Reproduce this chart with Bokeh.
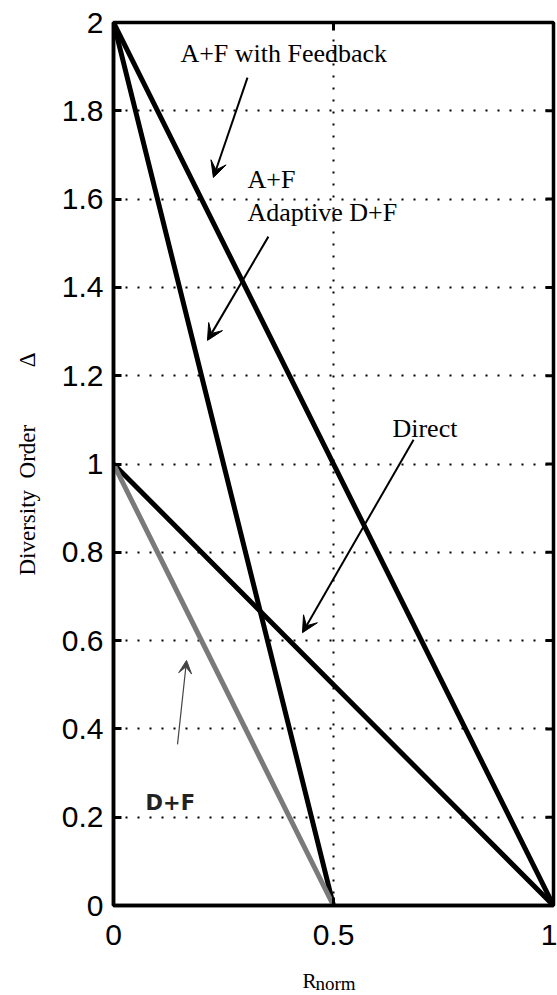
import math
from bokeh.plotting import figure
from bokeh.layouts import column
from bokeh.models import (Range1d, LinearAxis, FixedTicker, Label, Arrow, VeeHead)
from bokeh.core.properties import value
from bokeh.embed import file_html
from bokeh.resources import INLINE

# ---- data ----
series_names = ["A+F with Feedback", "A+F / Adaptive D+F", "Direct", "D+F"]
series_x = [[0, 1], [0, 0.5], [0, 1], [0, 0.5]]
series_y = [[2, 0], [2, 0], [1, 0], [1, 0]]
series_colors = ["black", "black", "black", "#7a7a7a"]

x_ticks = [0, 0.5, 1]
x_tick_labels = ["0", "0.5", "1"]
y_ticks = [0, 0.2, 0.4, 0.6, 0.8, 1.0, 1.2, 1.4, 1.6, 1.8, 2.0]
y_tick_labels = ["0", "0.2", "0.4", "0.6", "0.8", "1", "1.2", "1.4", "1.6", "1.8", "2"]

# annotation texts: (text, x, y)
ann_texts = [("A+F with Feedback", 0.152, 1.930),
             ("A+F", 0.3045, 1.644),
             ("Adaptive D+F", 0.3045, 1.5696),
             ("Direct", 0.634, 1.080)]
dpf_text = ("D+F", 0.073, 0.233)
# arrows: (x_tail, y_tail, x_tip, y_tip)
arrows = [(0.3045, 1.875, 0.227, 1.649),
          (0.352, 1.515, 0.2136, 1.280),
          (0.682, 1.055, 0.4295, 0.618)]
dpf_arrow = (0.1455, 0.365, 0.166, 0.555)

SERIF = "Liberation Serif"
SANS = "Liberation Sans"
NB = "\u00a0"

p = figure(width=557, height=965, output_backend="svg", toolbar_location=None,
           x_range=Range1d(0, 1), y_range=Range1d(0, 2),
           min_border_left=113, min_border_right=4, min_border_top=22,
           min_border_bottom=60, x_axis_location=None, y_axis_location=None)
p.background_fill_color = "white"
p.border_fill_color = "white"
p.outline_line_color = "black"
p.outline_line_width = 3.5


def style_axis(ax, ticks, labels):
    ax.ticker = FixedTicker(ticks=ticks)
    ax.major_label_overrides = {t: l for t, l in zip(ticks, labels)}
    ax.axis_line_width = 3.5
    ax.axis_line_color = "black"
    ax.major_tick_in = 8
    ax.major_tick_out = 0
    ax.major_tick_line_width = 3
    ax.minor_tick_line_color = None
    ax.major_label_text_font = SANS
    ax.major_label_text_font_size = "30px"
    ax.major_label_text_color = "black"


left = LinearAxis()
style_axis(left, y_ticks, y_tick_labels)
left.major_label_standoff = 10
left.axis_label = "Diversity" + NB * 2 + "Order" + NB * 10 + "Δ"
left.axis_label_text_font = SERIF
left.axis_label_text_font_style = "normal"
left.axis_label_text_font_size = "23px"
left.axis_label_text_color = "black"
left.axis_label_standoff = 19
p.add_layout(left, "left")

bottom = LinearAxis()
style_axis(bottom, x_ticks, x_tick_labels)
bottom.major_label_standoff = 19
p.add_layout(bottom, "below")

# mirrored inward ticks on right and top edges (clipped to the frame)
p.scatter([1] * len(y_ticks), y_ticks, marker="dash", size=16, line_width=3,
          line_color="black", angle=0)
p.scatter(x_ticks, [2] * len(x_ticks), marker="dash", size=16, line_width=3,
          line_color="black", angle=math.pi / 2)

# dotted grid
p.xgrid.ticker = FixedTicker(ticks=x_ticks)
p.ygrid.ticker = FixedTicker(ticks=y_ticks)
for g in (p.xgrid, p.ygrid):
    g.grid_line_color = "black"
    g.grid_line_dash = "2 10"
    g.grid_line_width = 2

# curves
for name, xs, ys, c in zip(series_names, series_x, series_y, series_colors):
    p.line(xs, ys, line_color=c, line_width=5, line_cap="round")

# annotation texts
for t, x, y in ann_texts:
    p.add_layout(Label(x=x, y=y, text=t, text_font=SERIF, text_font_size="26px",
                       text_color="black", text_baseline="alphabetic"))
p.add_layout(Label(x=dpf_text[1], y=dpf_text[2], text=dpf_text[0], text_font="DejaVu Sans",
                   text_font_style="bold", text_font_size="21px", text_color="#222222",
                   text_baseline="alphabetic"))

# arrows
for xt, yt, xh, yh in arrows:
    p.add_layout(Arrow(x_start=xt, y_start=yt, x_end=xh, y_end=yh, line_width=2,
                       line_color="black",
                       end=VeeHead(size=16, fill_color="black", line_color="black",
                                   line_width=1)))
xt, yt, xh, yh = dpf_arrow
p.add_layout(Arrow(x_start=xt, y_start=yt, x_end=xh, y_end=yh, line_width=1.2,
                   line_color="#444444",
                   end=VeeHead(size=13, fill_color="#444444", line_color="#444444",
                               line_width=1)))

# strip below for the x-axis label R_norm (same horizontal scale)
p2 = figure(width=557, height=30, output_backend="svg", toolbar_location=None,
            x_range=Range1d(0, 1), y_range=Range1d(0, 1),
            min_border_left=113, min_border_right=4, min_border_top=0,
            min_border_bottom=0, x_axis_location=None, y_axis_location=None)
p2.outline_line_color = None
p2.xgrid.visible = False
p2.ygrid.visible = False
p2.text(x=[0.4295], y=[0.5], text=["R"], text_font=value(SERIF),
        text_font_size="21px", text_color="black", text_baseline="alphabetic")
p2.text(x=[0.459], y=[0.40], text=["norm"], text_font=value(SERIF),
        text_font_size="19px", text_color="black", text_baseline="alphabetic")

layout = column(p, p2, spacing=0)
open("out.html", "w").write(file_html(layout, INLINE))
